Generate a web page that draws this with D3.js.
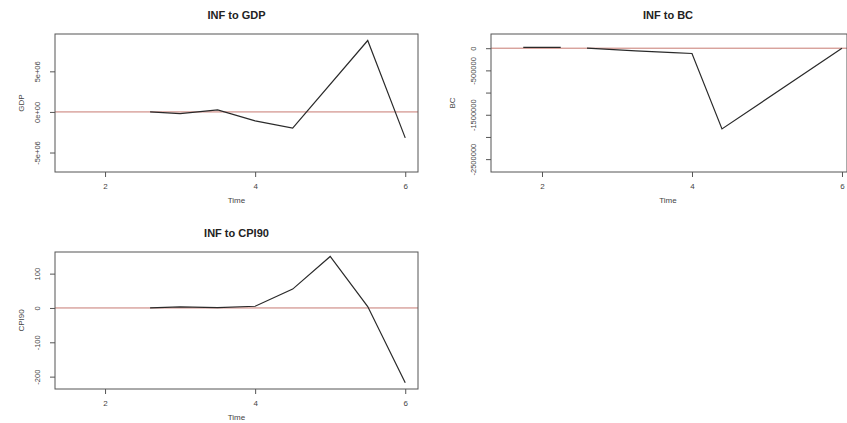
<!DOCTYPE html>
<html><head><meta charset="utf-8">
<script src="https://cdn.jsdelivr.net/npm/d3@7"></script>
<style>
body{margin:0;background:#fff;}
text{font-family:"Liberation Sans",Arial,sans-serif;}
</style></head>
<body><svg id="c" width="847" height="423"></svg>
<script>
// ---- data ----
const gdpTime = [2.6, 3.0, 3.5, 4.0, 4.5, 5.5, 6.0];
const gdpValues = [0, -0.2e6, 0.25e6, -1.1e6, -2.0e6, 8.8e6, -3.2e6];

const bcTime = [1.75, 2.25, 2.4, 2.6, 3.25, 3.75, 4.0, 4.4, 6.0];
const bcValues = [0.02e6, 0.02e6, null, 0, -0.06e6, -0.1e6, -0.12e6, -1.82e6, 0];

const cpiTime = [2.6, 3.0, 3.5, 4.0, 4.5, 5.0, 5.5, 6.0];
const cpiValues = [0, 3, 1, 5, 55, 150, 4, -218];

const xTicks = [2, 4, 6];
const gdpTicks = [-5e6, 0, 5e6];
const gdpTickLabels = ["-5e+06", "0e+00", "5e+06"];
const bcTicks = [0, -5e5, -1e6, -1.5e6, -2e6, -2.5e6];
const bcTickLabels = ["0", "-500000", "", "-1500000", "", "-2500000"];
const cpiTicks = [100, 0, -100, -200];
const cpiTickLabels = ["100", "0", "-100", "-200"];

const panels = [
  {title:"INF to GDP", ylab:"GDP", t:gdpTime, v:gdpValues, ticks:gdpTicks, labels:gdpTickLabels,
   xd:[1.333,6.17], xr:[55,418], yd:[-7.4e6,9.6e6], yr:[172,34], titleY:19, xlabY:186, timeY:203, ylabX:21},
  {title:"INF to BC", ylab:"BC", t:bcTime, v:bcValues, ticks:bcTicks, labels:bcTickLabels,
   xd:[1.32,6.067], xr:[491,847], yd:[-2.79e6,0.32e6], yr:[172,34], titleY:19, xlabY:186, timeY:203, ylabX:452},
  {title:"INF to CPI90", ylab:"CPI90", t:cpiTime, v:cpiValues, ticks:cpiTicks, labels:cpiTickLabels,
   xd:[1.333,6.17], xr:[55,418], yd:[-236,163], yr:[389,252], titleY:237, xlabY:404, timeY:420, ylabX:21}
];

const svg = d3.select("#c");
const gray = "#555";

panels.forEach(p => {
  const x = d3.scaleLinear().domain(p.xd).range(p.xr);
  const y = d3.scaleLinear().domain(p.yd).range(p.yr);
  const g = svg.append("g");
  const cx = (p.xr[0] + Math.min(p.xr[1], 845)) / 2;

  // x axis
  const xa = g.append("g").attr("transform", `translate(0,${p.yr[0]})`)
    .call(d3.axisBottom(x).tickValues(xTicks).tickFormat(d3.format("d")).tickSize(5).tickPadding(6));
  xa.select(".domain").remove();
  xa.selectAll("line").attr("stroke", gray);
  xa.selectAll("text").attr("fill", "#444").style("font-size", "8px");

  // y axis
  const ya = g.append("g").attr("transform", `translate(${p.xr[0]},0)`)
    .call(d3.axisLeft(y).tickValues(p.ticks).tickFormat((d,i) => p.labels[i]).tickSize(5).tickPadding(3));
  ya.select(".domain").remove();
  ya.selectAll("line").attr("stroke", gray);
  ya.selectAll("text").attr("fill", "#444").style("font-size", "7.5px")
    .attr("text-anchor", "middle")
    .attr("x", -17).attr("y", 0).attr("dy", "0.32em")
    .attr("transform", "rotate(-90,-17,0)");

  // zero line
  g.append("line").attr("x1", p.xr[0]).attr("x2", p.xr[1]).attr("y1", y(0)).attr("y2", y(0))
    .attr("stroke", "#c77a72").attr("stroke-width", 1);

  // data line
  const pts = p.t.map((t,i) => [t, p.v[i]]);
  g.append("path").datum(pts)
    .attr("d", d3.line().defined(d => d[1] !== null).x(d => x(d[0])).y(d => y(d[1])))
    .attr("fill", "none").attr("stroke", "#2a2a2a").attr("stroke-width", 1.2);

  // box
  g.append("rect").attr("x", p.xr[0]).attr("y", p.yr[1])
    .attr("width", p.xr[1] - p.xr[0]).attr("height", p.yr[0] - p.yr[1])
    .attr("fill", "none").attr("stroke", gray).attr("stroke-width", 1);

  // titles
  g.append("text").attr("x", cx).attr("y", p.titleY).attr("text-anchor", "middle")
    .style("font-size", "11px").style("font-weight", "bold").attr("fill", "#222").text(p.title);
  g.append("text").attr("x", cx).attr("y", p.timeY).attr("text-anchor", "middle")
    .style("font-size", "8px").attr("fill", "#444").text("Time");
  const ym = (p.yr[0] + p.yr[1]) / 2;
  g.append("text").attr("transform", `translate(${p.ylabX},${ym}) rotate(-90)`)
    .attr("text-anchor", "middle").attr("dy", "0.32em")
    .style("font-size", "8px").attr("fill", "#444").text(p.ylab);
});
</script></body></html>
